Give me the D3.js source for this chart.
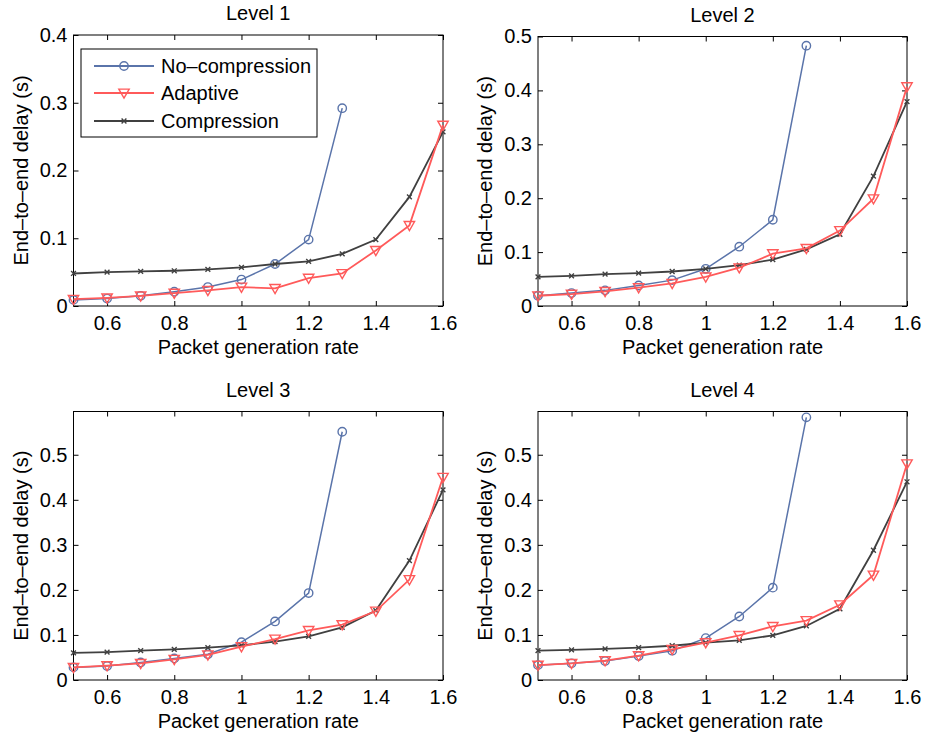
<!DOCTYPE html>
<html><head><meta charset="utf-8">
<script src="https://cdn.jsdelivr.net/npm/d3@7"></script>
<style>
body{margin:0;background:#fff;}
text{font-family:"Liberation Sans",Arial,Helvetica,sans-serif;fill:#000;}
</style></head><body>
<svg id="chart" width="925" height="737"></svg>
<script>
const rates = [0.5,0.6,0.7,0.8,0.9,1.0,1.1,1.2,1.3,1.4,1.5,1.6];
const seriesNames = ["No\u2013compression","Adaptive","Compression"];
const panelTitles = ["Level 1","Level 2","Level 3","Level 4"];
const xTicks = [0.6,0.8,1,1.2,1.4,1.6];
const yMax = [0.4,0.5,0.596,0.596];
const yTicks1 = [0,0.1,0.2,0.3,0.4];
const yTicks2 = [0,0.1,0.2,0.3,0.4,0.5];

// Level 1
const noComp1 = [0.009,0.011,0.015,0.021,0.028,0.039,0.062,0.098,0.292];
const adaptive1 = [0.010,0.012,0.015,0.019,0.023,0.028,0.026,0.041,0.048,0.082,0.119,0.267];
const comp1 = [0.048,0.050,0.051,0.052,0.054,0.057,0.062,0.066,0.077,0.098,0.161,0.257];
// Level 2
const noComp2 = [0.019,0.024,0.029,0.038,0.048,0.069,0.110,0.160,0.483];
const adaptive2 = [0.019,0.022,0.027,0.034,0.042,0.054,0.071,0.097,0.107,0.140,0.199,0.407];
const comp2 = [0.054,0.056,0.059,0.061,0.064,0.069,0.076,0.086,0.105,0.133,0.241,0.379];
// Level 3
const noComp3 = [0.028,0.031,0.039,0.048,0.057,0.084,0.130,0.193,0.551];
const adaptive3 = [0.028,0.032,0.037,0.046,0.056,0.074,0.091,0.110,0.123,0.153,0.223,0.450];
const comp3 = [0.060,0.062,0.065,0.068,0.072,0.077,0.085,0.097,0.117,0.154,0.265,0.422];
// Level 4
const noComp4 = [0.033,0.037,0.042,0.053,0.065,0.093,0.141,0.205,0.583];
const adaptive4 = [0.033,0.037,0.043,0.054,0.068,0.083,0.099,0.119,0.132,0.167,0.233,0.480];
const comp4 = [0.065,0.067,0.069,0.072,0.076,0.083,0.088,0.099,0.120,0.158,0.288,0.440];

const panelsData = [
  [noComp1,adaptive1,comp1],
  [noComp2,adaptive2,comp2],
  [noComp3,adaptive3,comp3],
  [noComp4,adaptive4,comp4]
];
const panelYTicks = [yTicks1,yTicks2,yTicks2,yTicks2];

const colors = ["#5a74aa","#ff5a5a","#404040"];
const boxes = [
  {x0:73.5,x1:443,y0:35,y1:306},
  {x0:538,x1:907,y0:36.5,y1:306},
  {x0:73.5,x1:443,y0:411.5,y1:680},
  {x0:538,x1:907,y0:411.5,y1:680}
];

const svg = d3.select("#chart");
const FS = 20;

function drawMarker(g, type, cx, cy, color){
  if(type===0){
    g.append("circle").attr("cx",cx).attr("cy",cy).attr("r",4.2)
      .attr("fill","none").attr("stroke",color).attr("stroke-width",1.4);
  } else if(type===1){
    const s=5.2;
    g.append("path").attr("d",`M${cx-s},${cy-s*0.75}L${cx+s},${cy-s*0.75}L${cx},${cy+s}Z`)
      .attr("fill","none").attr("stroke",color).attr("stroke-width",1.4);
  } else {
    const s=2.4;
    g.append("path").attr("d",`M${cx-s},${cy-s}L${cx+s},${cy+s}M${cx-s},${cy+s}L${cx+s},${cy-s}`)
      .attr("fill","none").attr("stroke",color).attr("stroke-width",1.4);
  }
}

panelsData.forEach((series,pi)=>{
  const b = boxes[pi];
  const x = d3.scaleLinear().domain([0.5,1.6]).range([b.x0,b.x1]);
  const y = d3.scaleLinear().domain([0,yMax[pi]]).range([b.y1,b.y0]);
  const g = svg.append("g");

  g.append("rect").attr("x",b.x0).attr("y",b.y0).attr("width",b.x1-b.x0).attr("height",b.y1-b.y0)
    .attr("fill","#fff").attr("stroke","#000").attr("stroke-width",1);

  const ax = (sel)=>{ sel.select(".domain").remove(); sel.selectAll("line").attr("stroke","#000"); sel.selectAll("text").attr("font-size",FS).attr("fill","#000").attr("font-family",'"Liberation Sans",Arial,sans-serif'); };
  g.append("g").attr("transform",`translate(0,${b.y1})`)
    .call(d3.axisBottom(x).tickValues(xTicks).tickSize(-5).tickPadding(10).tickFormat(d3.format("~g"))).call(ax);
  g.append("g").attr("transform",`translate(0,${b.y0})`)
    .call(d3.axisTop(x).tickValues(xTicks).tickSize(-5).tickFormat("")).call(ax);
  g.append("g").attr("transform",`translate(${b.x0},0)`)
    .call(d3.axisLeft(y).tickValues(panelYTicks[pi]).tickSize(-5).tickPadding(6).tickFormat(d3.format("~g"))).call(ax);
  g.append("g").attr("transform",`translate(${b.x1},0)`)
    .call(d3.axisRight(y).tickValues(panelYTicks[pi]).tickSize(-5).tickFormat("")).call(ax);

  const line = d3.line().x((d,i)=>x(rates[i])).y(d=>y(d));
  const order=[0,2,1];
  order.forEach(si=>{
    const vals = series[si];
    g.append("path").datum(vals).attr("d",line).attr("fill","none")
      .attr("stroke",colors[si]).attr("stroke-width",si===0?1.5:1.8);
    vals.forEach((v,i)=>drawMarker(g,si,x(rates[i]),y(v),colors[si]));
  });

  const cx=(b.x0+b.x1)/2;
  g.append("text").attr("x",cx).attr("y",b.y0-15).attr("text-anchor","middle").attr("font-size",FS).text(panelTitles[pi]);
  g.append("text").attr("x",cx).attr("y",b.y1+48).attr("text-anchor","middle").attr("font-size",FS).text("Packet generation rate");
  const lx = b.x0-46, ly=(b.y0+b.y1)/2;
  g.append("text").attr("transform",`translate(${lx},${ly}) rotate(-90)`).attr("text-anchor","middle").attr("font-size",FS).text("End\u2013to\u2013end delay (s)");

  if(pi===0){
    const lg = svg.append("g");
    lg.append("rect").attr("x",81).attr("y",49).attr("width",236).attr("height",88)
      .attr("fill","#fff").attr("stroke","#000").attr("stroke-width",1);
    const rows=[66,93,121];
    seriesNames.forEach((n,si)=>{
      lg.append("line").attr("x1",94).attr("x2",154).attr("y1",rows[si]).attr("y2",rows[si])
        .attr("stroke",colors[si]).attr("stroke-width",1.8);
      drawMarker(lg,si,124,rows[si],colors[si]);
      lg.append("text").attr("x",161).attr("y",rows[si]+7).attr("font-size",FS).text(n);
    });
  }
});
</script>
</body></html>
